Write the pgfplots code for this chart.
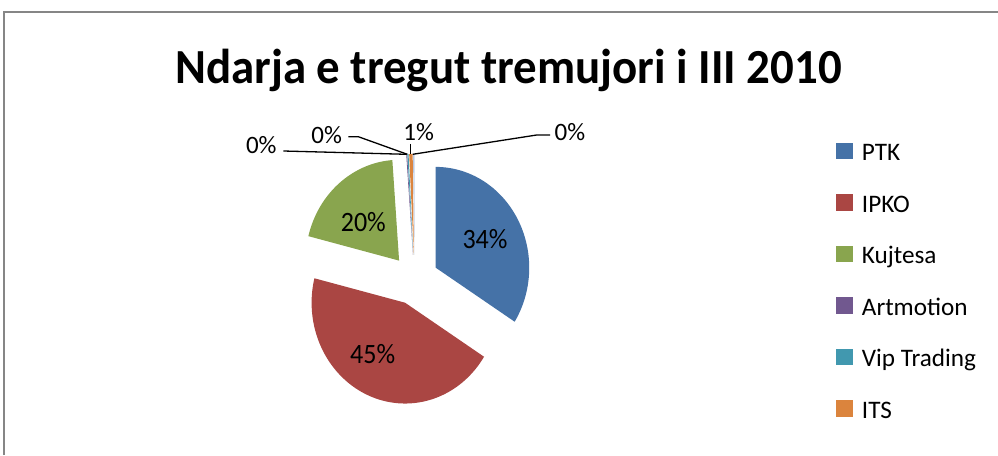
\documentclass[border=0pt]{standalone}
\usepackage{pgfplots}
\pgfplotsset{compat=1.18}
\usepackage{pgfplotstable}
\usepackage{graphicx}
\usepackage{fontspec}
\setmainfont{Carlito}

\definecolor{cPTK}{HTML}{4572A7}
\definecolor{cIPKO}{HTML}{AA4643}
\definecolor{cKuj}{HTML}{89A54E}
\definecolor{cArt}{HTML}{71588F}
\definecolor{cVip}{HTML}{4198AF}
\definecolor{cITS}{HTML}{DB843D}
\definecolor{cOth}{HTML}{93A9CF}
\definecolor{frame}{HTML}{868686}

\pgfplotstableread{
name share
PTK 34.0
IPKO 44.9
Kujtesa 19.95
Artmotion 0.15
VipTrading 0.2
ITS 0.6
Other 0.2
}\sharetable

\newcommand\getshare[2]{\pgfplotstablegetelem{#1}{share}\of\sharetable\global\let#2\pgfplotsretval}

% pie geometry (pixel units of the reference)
\def\cx{414.6}\def\cy{175.25}
\def\rx{93.5}\def\ry{100.8}
\def\ex{24.1}\def\ey{25}

\newcommand\pieslice[3]{%
  \pgfmathsetmacro\pmid{(#1+#2)/2}%
  \pgfmathsetmacro\pvx{\cx+\ex*cos(\pmid)}%
  \pgfmathsetmacro\pvy{\cy+\ey*sin(\pmid)}%
  \edef\doslice{\noexpand\addplot[fill=#3, draw=none, domain=#2:#1, samples=120]
    ({\pvx+\rx*cos(x)}, {\pvy+\ry*sin(x)}) -- (axis cs:\pvx,\pvy) -- cycle;}%
  \doslice}

% legend entry: square swatch (plotted) + text
\newcommand\legendrow[4]{% #1 colour, #2 swatch y, #3 text baseline y, #4 text
  \addplot[only marks, mark=square*, mark size=7.85bp, color=#1,
    mark options={draw=none, fill=#1}, forget plot] coordinates {(843.85,#2)};
  \node[anchor=base west, inner sep=0pt, font=\fontsize{25.2bp}{25.2bp}\selectfont]
    at (axis cs:861.7,#3) {#4};}

\begin{document}
\begin{tikzpicture}
\getshare{0}{\sA}\getshare{1}{\sB}\getshare{2}{\sC}\getshare{3}{\sD}
\getshare{4}{\sE}\getshare{5}{\sF}\getshare{6}{\sG}
\pgfmathsetmacro\tA{90}
\pgfmathsetmacro\tB{\tA-3.6*\sA}
\pgfmathsetmacro\tC{\tB-3.6*\sB}
\pgfmathsetmacro\tD{\tC-3.6*\sC}
\pgfmathsetmacro\tE{\tD-3.6*\sD}
\pgfmathsetmacro\tF{\tE-3.6*\sE}
\pgfmathsetmacro\tG{\tF-3.6*\sF}
\pgfmathsetmacro\tH{\tG-3.6*\sG}
\begin{axis}[
  width=998bp, height=455bp, scale only axis,
  xmin=0, xmax=998, ymin=0, ymax=455,
  hide axis, clip=false,
]
\draw[frame, line width=1.5bp] (axis cs:4,0) -- (axis cs:4,443) -- (axis cs:998,443);

\pieslice{\tA}{\tB}{cPTK}
\pieslice{\tB}{\tC}{cIPKO}
\pieslice{\tC}{\tD}{cKuj}
\pieslice{\tD}{\tE}{cArt}
\pieslice{\tE}{\tF}{cVip}
\pieslice{\tF}{\tG}{cITS}
\pieslice{\tG}{\tH}{cOth}

% leader lines
\draw[black, line width=1.3bp] (axis cs:283.3,304) -- (axis cs:406.5,300.7);
\draw[black, line width=1.3bp] (axis cs:348.3,318.3) -- (axis cs:358.3,318.3) -- (axis cs:407.3,300.7);
\draw[black, line width=1.3bp] (axis cs:410.8,311) -- (axis cs:410.8,300.5);
\draw[black, line width=1.3bp] (axis cs:412.7,300.7) -- (axis cs:536.7,320) -- (axis cs:550,320);

% data labels
\node[inner sep=0pt] at (axis cs:485,215.7) {\scalebox{0.93}[1]{\fontsize{28bp}{28bp}\selectfont 34\%}};
\node[inner sep=0pt] at (axis cs:372.7,100.7) {\scalebox{0.93}[1]{\fontsize{28bp}{28bp}\selectfont 45\%}};
\node[inner sep=0pt] at (axis cs:363.3,233.3) {\scalebox{0.93}[1]{\fontsize{28bp}{28bp}\selectfont 20\%}};
\node[inner sep=0pt, font=\fontsize{25bp}{25bp}\selectfont] at (axis cs:261.3,310.3) {0\%};
\node[inner sep=0pt, font=\fontsize{25bp}{25bp}\selectfont] at (axis cs:326.7,320) {0\%};
\node[inner sep=0pt, font=\fontsize{25bp}{25bp}\selectfont] at (axis cs:418.7,323) {1\%};
\node[inner sep=0pt, font=\fontsize{25bp}{25bp}\selectfont] at (axis cs:570,323) {0\%};

% legend
\legendrow{cPTK}{304.2}{294.3}{PTK}
\legendrow{cIPKO}{252.75}{242.8}{IPKO}
\legendrow{cKuj}{201.3}{191.3}{Kujtesa}
\legendrow{cArt}{149.85}{139.8}{Artmotion}
\legendrow{cVip}{98.4}{88.3}{Vip Trading}
\legendrow{cITS}{46.95}{36.8}{ITS}

% title
\node[anchor=base, inner sep=0pt] at (axis cs:508.5,371.7)
  {\scalebox{0.957}[1]{\fontsize{49bp}{49bp}\selectfont\bfseries Ndarja e tregut tremujori i III 2010}};
\end{axis}
\pgfresetboundingbox
\path (current axis.south west) rectangle (current axis.north east);
\end{tikzpicture}
\end{document}
